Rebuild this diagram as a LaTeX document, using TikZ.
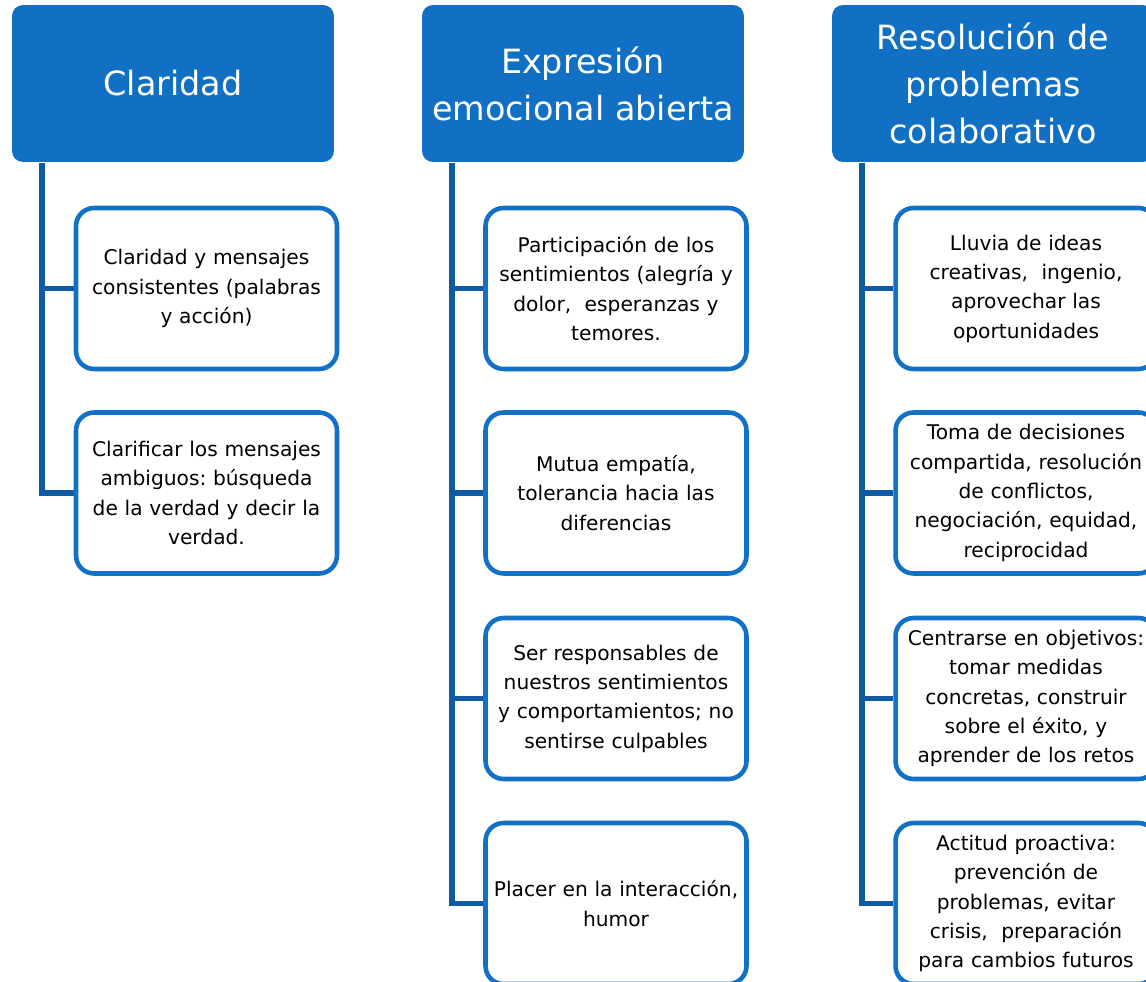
\documentclass[tikz,border=0pt]{standalone}
\usepackage{fontspec}
\setmainfont{DejaVu Sans}
\frenchspacing
\definecolor{headblue}{RGB}{17,112,196}
\definecolor{boxblue}{RGB}{18,112,198}
\definecolor{linkblue}{RGB}{16,90,165}
\begin{document}
\begin{tikzpicture}[x=0.02cm,y=-0.02cm,
    head/.style={fill=headblue,draw=none,rounded corners=0.22cm,
      minimum width=6.44cm,minimum height=3.14cm,inner sep=0pt,
      text=white,align=center,font=\fontsize{19}{26.7}\selectfont},
    item/.style={fill=white,draw=boxblue,line width=2.6pt,rounded corners=0.36cm,
      minimum width=5.22cm,minimum height=3.22cm,inner sep=0pt,
      text width=5.1cm,align=center,font=\fontsize{11.5}{16.7}\selectfont},
    link/.style={draw=linkblue,line width=3.1pt}]
  \useasboundingbox (0,0) rectangle (1146,982);
  %
  \node[head] (h1) at (173,83.5) {Claridad};
  \node[head] (h2) at (583,83.5) {Expresión\\emocional abierta};
  \node[head] (h3) at (993,83.5) {Resolución de\\problemas\\colaborativo};
  %
  \node[item] (c11) at (206.5,288.5) {Claridad y mensajes\\consistentes (palabras\\y acción)};
  \node[item] (c12) at (206.5,493) {Clarificar los mensajes\\ambiguos: búsqueda\\de la verdad y decir la\\verdad.};
  %
  \node[item] (c21) at (616,288.5) {Participación de los\\sentimientos (alegría y\\dolor, \ esperanzas y\\temores.};
  \node[item] (c22) at (616,493) {Mutua empatía,\\tolerancia hacia las\\diferencias};
  \node[item] (c23) at (616,698.5) {Ser responsables de\\nuestros sentimientos\\y comportamientos; no\\sentirse culpables};
  \node[item] (c24) at (616,903.5) {Placer en la interacción,\\humor};
  %
  \node[item] (c31) at (1026,288.5) {Lluvia de ideas\\creativas, \ ingenio,\\aprovechar las\\oportunidades};
  \node[item] (c32) at (1026,493) {Toma de decisiones\\compartida, resolución\\de conflictos,\\negociación, equidad,\\reciprocidad};
  \node[item] (c33) at (1026,698.5) {Centrarse en objetivos:\\tomar medidas\\concretas, construir\\sobre el éxito, y\\aprender de los retos};
  \node[item] (c34) at (1026,903.5) {Actitud proactiva:\\prevención de\\problemas, evitar\\crisis, \ preparación\\para cambios futuros};
  %
  \coordinate (s1) at (42,163);
  \coordinate (s2) at (452,163);
  \coordinate (s3) at (862,163);
  \draw[link] (s1) |- (c11.west);
  \draw[link] (s1) |- (c12.west);
  \draw[link] (s2) |- (c21.west);
  \draw[link] (s2) |- (c22.west);
  \draw[link] (s2) |- (c23.west);
  \draw[link] (s2) |- (c24.west);
  \draw[link] (s3) |- (c31.west);
  \draw[link] (s3) |- (c32.west);
  \draw[link] (s3) |- (c33.west);
  \draw[link] (s3) |- (c34.west);
\end{tikzpicture}
\end{document}
